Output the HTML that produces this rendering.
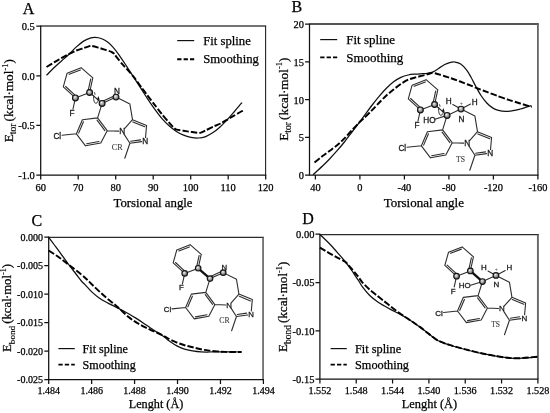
<!DOCTYPE html>
<html lang="en"><head><meta charset="utf-8"><title>Figure</title>
<style>html,body{margin:0;padding:0;background:#fff}body{width:550px;height:413px;overflow:hidden}svg{display:block}text{stroke:#000;stroke-width:.25px}</style>
</head><body>
<svg width="550" height="413" viewBox="0 0 550 413" font-family='"Liberation Serif", "DejaVu Serif", serif' fill="#000" stroke="none">
<defs><radialGradient id="sph" cx="0.4" cy="0.36" r="0.72"><stop offset="0" stop-color="#f6f6f6"/><stop offset="0.25" stop-color="#c4c4c4"/><stop offset="0.7" stop-color="#7a7a7a"/><stop offset="1" stop-color="#333"/></radialGradient></defs>
<rect width="550" height="413" fill="#fff"/>
<g id="panelA">
<path d="M40.7 26H266.15" fill="none" stroke="#444" stroke-width="1.5"/>
<path d="M265.6 26V175.1" fill="none" stroke="#222" stroke-width="1.1"/>
<path d="M40.7 25.6 V175.1 H266.2" fill="none" stroke="#111" stroke-width="1.25"/>
<path d="M40.7 175.1 v4.4M78.2 175.1 v4.4M115.7 175.1 v4.4M153.2 175.1 v4.4M190.7 175.1 v4.4M228.2 175.1 v4.4M265.7 175.1 v4.4M40.7 26.1 h-4.4M40.7 75.77 h-4.4M40.7 125.43 h-4.4M40.7 175.1 h-4.4" fill="none" stroke="#111" stroke-width="1.25"/>
<text x="40.7" y="191.2" text-anchor="middle" font-size="10.5">60</text>
<text x="78.2" y="191.2" text-anchor="middle" font-size="10.5">70</text>
<text x="115.7" y="191.2" text-anchor="middle" font-size="10.5">80</text>
<text x="153.2" y="191.2" text-anchor="middle" font-size="10.5">90</text>
<text x="190.7" y="191.2" text-anchor="middle" font-size="10.5">100</text>
<text x="228.2" y="191.2" text-anchor="middle" font-size="10.5">110</text>
<text x="265.7" y="191.2" text-anchor="middle" font-size="10.5">120</text>
<text x="34.8" y="30.1" text-anchor="end" font-size="10.5">0.5</text>
<text x="34.8" y="79.77" text-anchor="end" font-size="10.5">0.0</text>
<text x="34.8" y="129.43" text-anchor="end" font-size="10.5">-0.5</text>
<text x="34.8" y="179.1" text-anchor="end" font-size="10.5">-1.0</text>
<text x="28.6" y="14.2" text-anchor="middle" font-size="16">A</text>
<text x="153" y="206.6" text-anchor="middle" font-size="12.8">Torsional angle</text>
<text transform="translate(12.8 142.3) rotate(-90)" font-size="13.3">E<tspan font-size="9.58" dy="3.4" stroke-width=".15">tor</tspan><tspan dy="-3.4" dx="2.1">(kcal</tspan><tspan dx="-0.6">·</tspan><tspan dx="-0.2">mol</tspan><tspan font-size="8.51" dy="-5.3" stroke-width=".15">-1</tspan><tspan dy="5.3">)</tspan></text>
<path d="M46.5 75.3 C47.83 73.97 51.95 69.73 54.5 67.3 C57.05 64.87 59.37 62.88 61.8 60.7 C64.23 58.52 66.67 56.5 69.1 54.2 C71.53 51.9 73.98 49.08 76.4 46.9 C78.82 44.72 81.18 42.6 83.6 41.1 C86.02 39.6 88.95 38.52 90.9 37.9 C92.85 37.28 93.6 37.3 95.3 37.4 C97 37.5 99.17 37.8 101.1 38.5 C103.03 39.2 105 40.25 106.9 41.6 C108.8 42.95 110.4 44.27 112.5 46.6 C114.6 48.93 117.12 52.27 119.5 55.6 C121.88 58.93 124.37 62.9 126.8 66.6 C129.23 70.3 131.67 74.03 134.1 77.8 C136.53 81.57 139.2 85.77 141.4 89.2 C143.6 92.63 145.12 95.12 147.3 98.4 C149.48 101.68 152.08 105.57 154.5 108.9 C156.92 112.23 159.37 115.58 161.8 118.4 C164.23 121.22 166.67 123.62 169.1 125.8 C171.53 127.98 173.98 129.93 176.4 131.5 C178.82 133.07 181.18 134.23 183.6 135.2 C186.02 136.17 188.43 136.83 190.9 137.3 C193.37 137.77 195.93 138.12 198.4 138 C200.87 137.88 203.27 137.5 205.7 136.6 C208.13 135.7 210.57 134.25 213 132.6 C215.43 130.95 217.83 128.95 220.3 126.7 C222.77 124.45 225.58 121.47 227.8 119.1 C230.02 116.73 231.65 114.8 233.6 112.5 C235.55 110.2 238.1 106.95 239.5 105.3 C240.9 103.65 241.58 103.05 242 102.6" fill="none" stroke="#111" stroke-width="1.25" stroke-linecap="butt"/>
<path d="M46.5 67 C47.57 66.36 52.46 63.43 54.5 62.2 C56.54 60.97 59.85 58.91 61.8 57.8 C63.75 56.69 67.15 54.87 69.1 53.9 C71.05 52.93 74.47 51.27 76.4 50.5 C78.33 49.73 81.87 48.69 83.6 48.1 C85.33 47.51 88.33 46.41 89.4 46.1 C90.47 45.79 90.43 45.6 91.6 45.8 C92.77 46 96.35 47.05 98.2 47.6 C100.05 48.15 103.71 49.31 105.5 49.9 C107.29 50.49 110.44 51.48 111.6 52 C112.76 52.52 113.53 53.11 114.2 53.8 C114.87 54.49 115.49 55.79 116.6 57.2 C117.71 58.61 121.14 62.83 122.5 64.4 C123.86 65.97 125.25 67.27 126.8 69 C128.35 70.73 132.15 74.96 134.1 77.4 C136.05 79.84 139.64 84.93 141.4 87.3 C143.16 89.67 145.55 92.89 147.3 95.2 C149.05 97.51 152.57 102.09 154.5 104.6 C156.43 107.11 159.85 111.59 161.8 114 C163.75 116.41 167.5 120.86 169.1 122.7 C170.7 124.54 172.8 126.88 173.8 127.8 C174.8 128.72 175.29 129.2 176.6 129.6 C177.91 130 181.69 130.49 183.6 130.8 C185.51 131.11 189.03 131.63 190.9 131.9 C192.77 132.17 196.25 132.71 197.6 132.8 C198.95 132.89 199.88 132.95 201 132.6 C202.12 132.25 204.36 130.99 206 130.2 C207.64 129.41 211.37 127.59 213.3 126.7 C215.23 125.81 218.57 124.49 220.5 123.5 C222.43 122.51 226.05 120.31 227.8 119.3 C229.55 118.29 232.04 116.81 233.6 115.9 C235.16 114.99 238.23 113.19 239.5 112.5 C240.77 111.81 242.62 110.94 243.1 110.7" fill="none" stroke="#000" stroke-width="1.95" stroke-dasharray="6.4 2.1"/>
<path d="M177.2 40.6H194.2" stroke="#111" stroke-width="1.2"/>
<path d="M177.2 59.2H194.2" stroke="#000" stroke-width="1.9" stroke-dasharray="4.3 2.1"/>
<text x="203.2" y="44.7" font-size="12.7">Fit spline</text>
<text x="203.2" y="63.3" font-size="12.7">Smoothing</text>
<g fill="none" stroke="#2e2e2e" stroke-width="1.1" stroke-linecap="round">
<path d="M67.1 73.2L81.1 67.7M81.1 67.7L92.8 77.9M92.8 77.9L89.6 92.5M89.6 92.5L75.4 97.9M75.4 97.9L63.3 86.8M63.3 86.8L67.1 73.2M69.15 74.33L80.36 69.92M90.72 78.98L88.16 90.65M75.51 95.56L65.62 86.49M97.6 117.9L107.2 130.7M107.2 130.7L100.8 143M100.8 143L85.5 145.8M85.5 145.8L76.4 133.8M76.4 133.8L82.4 119.7M82.4 119.7L97.6 117.9M97.06 120.18L104.86 130.58M99 141.5L86.65 143.76M78.64 133.12L83.47 121.79M89.6 92.5L102.1 103.4M102.1 103.4L97.6 117.9M102.1 103.4L116 97.1M116 97.1L129.9 104.1M129.9 104.1L132.5 119.7M132.5 119.7L146.6 125.5M132.89 121.91L144.77 126.8M146.6 125.5L145.52 137.51M141.64 141.61L129.9 143.3M140.57 139.85L130.62 141.28M129.9 143.3L124.04 134.16M124.59 128.61L132.5 119.7M129.9 143.3L124.8 158.3M107.2 130.7L118.6 131.16M76.4 133.8L62 135.3M75.4 97.9L73 109M103.18 100.93L113.44 96.29"/>
<path d="M93.6 95.5 C93.3 99.5 94.2 103.5 95.9 103.3 C97.6 103.1 98.4 101.1 98.3 99.1" stroke="#222" stroke-width="0.9"/>
<path d="M98.3 96.1 L96.9 99.7 L99.7 99.7 z" fill="#111" stroke="none"/>
<path d="M94.6 92.7 L95 94.3" stroke="#222" stroke-width="0.9"/>
</g>
<circle cx="75.4" cy="97.9" r="2.9" fill="url(#sph)" stroke="#151515" stroke-width="1.15"/>
<circle cx="89.6" cy="92.5" r="2.9" fill="url(#sph)" stroke="#151515" stroke-width="1.15"/>
<circle cx="102.1" cy="103.4" r="2.9" fill="url(#sph)" stroke="#151515" stroke-width="1.15"/>
<circle cx="116" cy="97.1" r="2.9" fill="url(#sph)" stroke="#151515" stroke-width="1.15"/>
<g font-family='"Liberation Sans", "DejaVu Sans", sans-serif'>
<text x="57.3" y="138.65" text-anchor="middle" font-size="8.2" fill="#1a1a1a" style="stroke:#1a1a1a;stroke-width:0.3px">Cl</text>
<text x="72" y="115.85" text-anchor="middle" font-size="8.2" fill="#1a1a1a" style="stroke:#1a1a1a;stroke-width:0.3px">F</text>
<text x="122.2" y="134.25" text-anchor="middle" font-size="8.2" fill="#1a1a1a" style="stroke:#1a1a1a;stroke-width:0.3px">N</text>
<text x="145.2" y="144.05" text-anchor="middle" font-size="8.2" fill="#1a1a1a" style="stroke:#1a1a1a;stroke-width:0.3px">N</text>
<text x="117" y="94.05" text-anchor="middle" font-size="8.2" fill="#1a1a1a" style="stroke:#1a1a1a;stroke-width:0.3px">N</text>
</g>
<text x="117.2" y="150.25" text-anchor="middle" font-size="8.2" fill="#3a3a3a" style="stroke:#3a3a3a;stroke-width:0.1px">CR</text>
</g>
<g id="panelB">
<path d="M309.5 24H538.8" fill="none" stroke="#565656" stroke-width="1.8"/>
<path d="M537.9 24V175.1" fill="none" stroke="#666" stroke-width="1.8"/>
<path d="M309.5 23.5 V175.1 H538.4" fill="none" stroke="#111" stroke-width="1.25"/>
<path d="M315.4 175.1 v4.4M359.9 175.1 v4.4M404.4 175.1 v4.4M448.9 175.1 v4.4M493.4 175.1 v4.4M537.9 175.1 v4.4M309.5 24 h-4.4M309.5 61.77 h-4.4M309.5 99.55 h-4.4M309.5 137.32 h-4.4M309.5 175.1 h-4.4" fill="none" stroke="#111" stroke-width="1.25"/>
<text x="315.4" y="191.2" text-anchor="middle" font-size="10.4">40</text>
<text x="359.9" y="191.2" text-anchor="middle" font-size="10.4">0</text>
<text x="404.4" y="191.2" text-anchor="middle" font-size="10.4">-40</text>
<text x="448.9" y="191.2" text-anchor="middle" font-size="10.4">-80</text>
<text x="493.4" y="191.2" text-anchor="middle" font-size="10.4">-120</text>
<text x="537.9" y="191.2" text-anchor="middle" font-size="10.4">-160</text>
<text x="304" y="28" text-anchor="end" font-size="10.4">20</text>
<text x="304" y="65.78" text-anchor="end" font-size="10.4">15</text>
<text x="304" y="103.55" text-anchor="end" font-size="10.4">10</text>
<text x="304" y="141.32" text-anchor="end" font-size="10.4">5</text>
<text x="304" y="179.1" text-anchor="end" font-size="10.4">0</text>
<text x="296.8" y="12.2" text-anchor="middle" font-size="16">B</text>
<text x="423.8" y="206.6" text-anchor="middle" font-size="13.0">Torsional angle</text>
<text transform="translate(287.5 140.8) rotate(-90)" font-size="13.3">E<tspan font-size="9.58" dy="3.4" stroke-width=".15">tor</tspan><tspan dy="-3.4" dx="2.1">(kcal</tspan><tspan dx="-0.6">·</tspan><tspan dx="-0.2">mol</tspan><tspan font-size="8.51" dy="-5.3" stroke-width=".15">-1</tspan><tspan dy="5.3">)</tspan></text>
<path d="M313 174.8 C314.58 173.33 319.7 168.68 322.5 166 C325.3 163.32 327.37 161.25 329.8 158.7 C332.23 156.15 334.67 153.48 337.1 150.7 C339.53 147.92 341.98 145.03 344.4 142 C346.82 138.97 349.27 135.57 351.6 132.5 C353.93 129.43 356.25 126.45 358.4 123.6 C360.55 120.75 362.27 118.42 364.5 115.4 C366.73 112.38 369.37 108.68 371.8 105.5 C374.23 102.32 376.67 99.17 379.1 96.3 C381.53 93.43 383.98 90.72 386.4 88.3 C388.82 85.88 391.18 83.62 393.6 81.8 C396.02 79.98 398.47 78.53 400.9 77.4 C403.33 76.27 405.77 75.55 408.2 75 C410.63 74.45 413.08 74.32 415.5 74.1 C417.92 73.88 420.73 73.83 422.7 73.7 C424.67 73.57 425.57 73.6 427.3 73.3 C429.03 73 431.17 72.73 433.1 71.9 C435.03 71.07 436.97 69.53 438.9 68.3 C440.83 67.07 442.77 65.5 444.7 64.5 C446.63 63.5 448.8 62.72 450.5 62.3 C452.2 61.88 453.2 61.73 454.9 62 C456.6 62.27 458.77 62.6 460.7 63.9 C462.63 65.2 464.8 67.62 466.5 69.8 C468.2 71.98 469.38 74.3 470.9 77 C472.42 79.7 473.92 82.92 475.6 86 C477.28 89.08 479.13 92.67 481 95.5 C482.87 98.33 484.87 100.93 486.8 103 C488.73 105.07 490.65 106.67 492.6 107.9 C494.55 109.13 496.32 109.82 498.5 110.4 C500.68 110.98 503.28 111.35 505.7 111.4 C508.12 111.45 510.57 111.1 513 110.7 C515.43 110.3 518.12 109.58 520.3 109 C522.48 108.42 524.25 107.77 526.1 107.2 C527.95 106.63 530.52 105.87 531.4 105.6" fill="none" stroke="#111" stroke-width="1.25" stroke-linecap="butt"/>
<path d="M314.5 162.4 C315.62 161.52 320.36 157.74 322.5 156.1 C324.64 154.46 327.76 152.23 329.8 150.7 C331.84 149.17 335.06 146.92 337.1 145.2 C339.14 143.48 342.37 140.44 344.4 138.4 C346.43 136.36 349.58 132.76 351.6 130.6 C353.62 128.44 356.99 124.82 358.8 123 C360.61 121.18 362.68 119.36 364.5 117.6 C366.32 115.84 369.76 112.47 371.8 110.4 C373.84 108.33 377.06 104.89 379.1 102.8 C381.14 100.71 384.37 97.36 386.4 95.5 C388.43 93.64 391.57 91.12 393.6 89.5 C395.63 87.88 398.86 85.27 400.9 83.9 C402.94 82.53 406.16 80.61 408.2 79.7 C410.24 78.79 413.47 77.97 415.5 77.4 C417.53 76.83 420.88 76.08 422.7 75.6 C424.52 75.12 427.17 74.38 428.5 74 C429.83 73.62 431.29 73.01 432.2 72.9 C433.11 72.79 434.06 72.99 435 73.2 C435.94 73.41 437.54 73.98 438.9 74.4 C440.26 74.82 443.08 75.68 444.7 76.2 C446.32 76.72 448.86 77.55 450.5 78.1 C452.14 78.65 454.57 79.44 456.4 80.1 C458.23 80.76 461.57 82.02 463.6 82.8 C465.63 83.58 468.86 84.89 470.9 85.7 C472.94 86.51 475.97 87.73 478.2 88.6 C480.43 89.47 484.17 90.89 486.8 91.9 C489.43 92.91 493.95 94.69 497 95.8 C500.05 96.91 505.34 98.72 508.6 99.8 C511.86 100.88 517.44 102.62 520.3 103.5 C523.16 104.38 527.38 105.62 529 106.1 C530.62 106.58 531.49 106.79 531.9 106.9" fill="none" stroke="#000" stroke-width="1.95" stroke-dasharray="6.4 2.1"/>
<path d="M320.2 39.6H337.2" stroke="#111" stroke-width="1.2"/>
<path d="M320.2 57.4H337.2" stroke="#000" stroke-width="1.9" stroke-dasharray="4.3 2.1"/>
<text x="346.2" y="43.7" font-size="13.0">Fit spline</text>
<text x="346.2" y="61.5" font-size="13.0">Smoothing</text>
<g fill="none" stroke="#2e2e2e" stroke-width="1.1" stroke-linecap="round">
<path d="M412.1 85.2L426.1 79.7M426.1 79.7L437.8 89.9M437.8 89.9L434.6 104.5M434.6 104.5L420.4 109.9M420.4 109.9L408.3 98.8M408.3 98.8L412.1 85.2M414.15 86.33L425.36 81.92M435.72 90.98L433.16 102.65M420.51 107.56L410.62 98.49M442.6 129.9L452.2 142.7M452.2 142.7L445.8 155M445.8 155L430.5 157.8M430.5 157.8L421.4 145.8M421.4 145.8L427.4 131.7M427.4 131.7L442.6 129.9M442.06 132.18L449.86 142.58M444 153.5L431.65 155.76M423.64 145.12L428.47 133.79M434.6 104.5L447.1 115.4M447.1 115.4L442.6 129.9M447.1 115.4L461 109.1M461 109.1L474.9 116.1M474.9 116.1L477.5 131.7M477.5 131.7L491.6 137.5M477.89 133.91L489.77 138.8M491.6 137.5L490.52 149.51M486.64 153.61L474.9 155.3M485.57 151.85L475.62 153.28M474.9 155.3L469.04 146.16M469.59 140.61L477.5 131.7M474.9 155.3L469.8 170.3M452.2 142.7L463.6 143.16M421.4 145.8L407 147.3M420.4 109.9L418 121M447.1 115.4L434.9 119.2M461 109.1L452.8 104.5M461 109.1L470.6 104.1"/>
<path d="M438.6 107.5 C438.3 111.5 439.2 115.5 440.9 115.3 C442.6 115.1 443.4 113.1 443.3 111.1" stroke="#222" stroke-width="0.9"/>
<path d="M443.3 108.1 L441.9 111.7 L444.7 111.7 z" fill="#111" stroke="none"/>
<path d="M439.6 104.7 L440 106.3" stroke="#222" stroke-width="0.9"/>
</g>
<circle cx="420.4" cy="109.9" r="2.9" fill="url(#sph)" stroke="#151515" stroke-width="1.15"/>
<circle cx="434.6" cy="104.5" r="2.9" fill="url(#sph)" stroke="#151515" stroke-width="1.15"/>
<circle cx="447.1" cy="115.4" r="2.9" fill="url(#sph)" stroke="#151515" stroke-width="1.15"/>
<circle cx="461" cy="109.1" r="2.9" fill="url(#sph)" stroke="#151515" stroke-width="1.15"/>
<g font-family='"Liberation Sans", "DejaVu Sans", sans-serif'>
<text x="402.3" y="150.65" text-anchor="middle" font-size="8.2" fill="#1a1a1a" style="stroke:#1a1a1a;stroke-width:0.3px">Cl</text>
<text x="417" y="127.85" text-anchor="middle" font-size="8.2" fill="#1a1a1a" style="stroke:#1a1a1a;stroke-width:0.3px">F</text>
<text x="467.2" y="146.25" text-anchor="middle" font-size="8.2" fill="#1a1a1a" style="stroke:#1a1a1a;stroke-width:0.3px">N</text>
<text x="490.2" y="156.05" text-anchor="middle" font-size="8.2" fill="#1a1a1a" style="stroke:#1a1a1a;stroke-width:0.3px">N</text>
<text x="461.4" y="122.25" text-anchor="middle" font-size="8.2" fill="#1a1a1a" style="stroke:#1a1a1a;stroke-width:0.3px">N</text>
<text x="429.5" y="122.75" text-anchor="middle" font-size="8.2" fill="#1a1a1a" style="stroke:#1a1a1a;stroke-width:0.3px">HO</text>
<text x="448.6" y="104.35" text-anchor="middle" font-size="8.2" fill="#1a1a1a" style="stroke:#1a1a1a;stroke-width:0.3px">H</text>
<text x="474.8" y="104.85" text-anchor="middle" font-size="8.2" fill="#1a1a1a" style="stroke:#1a1a1a;stroke-width:0.3px">H</text>
<text x="461.4" y="105.28" text-anchor="middle" font-size="5.5" fill="#555" style="stroke:#555;stroke-width:0px">+</text>
</g>
<text x="460.6" y="162.07" text-anchor="middle" font-size="7.7" fill="#3a3a3a" style="stroke:#3a3a3a;stroke-width:0.1px">TS</text>
</g>
<g id="panelC">
<path d="M48.7 237.4H263.9" fill="none" stroke="#2c2c2c" stroke-width="1.15"/>
<path d="M263.05 237.4V379.5" fill="none" stroke="#666" stroke-width="1.7"/>
<path d="M48.7 236.6 V379.5 H263.9" fill="none" stroke="#111" stroke-width="1.25"/>
<path d="M48.7 379.5 v4.4M91.64 379.5 v4.4M134.58 379.5 v4.4M177.52 379.5 v4.4M220.46 379.5 v4.4M263.4 379.5 v4.4M48.7 237.1 h-4.4M48.7 265.58 h-4.4M48.7 294.06 h-4.4M48.7 322.54 h-4.4M48.7 351.02 h-4.4M48.7 379.5 h-4.4" fill="none" stroke="#111" stroke-width="1.25"/>
<text x="48.7" y="394.1" text-anchor="middle" font-size="10.0">1.484</text>
<text x="91.64" y="394.1" text-anchor="middle" font-size="10.0">1.486</text>
<text x="134.58" y="394.1" text-anchor="middle" font-size="10.0">1.488</text>
<text x="177.52" y="394.1" text-anchor="middle" font-size="10.0">1.490</text>
<text x="220.46" y="394.1" text-anchor="middle" font-size="10.0">1.492</text>
<text x="263.4" y="394.1" text-anchor="middle" font-size="10.0">1.494</text>
<text x="42.9" y="240.6" text-anchor="end" font-size="10.0">0.000</text>
<text x="42.9" y="269.08" text-anchor="end" font-size="10.0">-0.005</text>
<text x="42.9" y="297.56" text-anchor="end" font-size="10.0">-0.010</text>
<text x="42.9" y="326.04" text-anchor="end" font-size="10.0">-0.015</text>
<text x="42.9" y="354.52" text-anchor="end" font-size="10.0">-0.020</text>
<text x="42.9" y="383" text-anchor="end" font-size="10.0">-0.025</text>
<text x="36.8" y="226" text-anchor="middle" font-size="16">C</text>
<text x="156" y="408" text-anchor="middle" font-size="12.2">Lenght (Å)</text>
<text transform="translate(11.4 352) rotate(-90)" font-size="12.75">E<tspan font-size="9.18" dy="3.4" stroke-width=".15">bond</tspan><tspan dy="-3.4" dx="2.1">(kcal</tspan><tspan dx="-0.6">·</tspan><tspan dx="-0.2">mol</tspan><tspan font-size="8.16" dy="-5.3" stroke-width=".15">-1</tspan><tspan dy="5.3">)</tspan></text>
<path d="M48.7 237.3 C49.58 238.5 52.2 242.07 54 244.5 C55.8 246.93 57 248.48 59.5 251.9 C62 255.32 66.25 261.32 69 265 C71.75 268.68 73.93 271.33 76 274 C78.07 276.67 79.9 279.23 81.4 281 C82.9 282.77 83.18 282.7 85 284.6 C86.82 286.5 89.88 290.13 92.3 292.4 C94.72 294.67 97.08 296.52 99.5 298.2 C101.92 299.88 104.37 301.17 106.8 302.5 C109.23 303.83 111.92 305.1 114.1 306.2 C116.28 307.3 117.48 307.85 119.9 309.1 C122.32 310.35 125.93 312.2 128.6 313.7 C131.27 315.2 133.47 316.57 135.9 318.1 C138.33 319.63 140.77 321.25 143.2 322.9 C145.63 324.55 148.08 326.38 150.5 328 C152.92 329.62 155.28 331 157.7 332.6 C160.12 334.2 163.25 336.32 165 337.6 C166.75 338.88 166.3 338.97 168.2 340.3 C170.1 341.63 173.68 344.13 176.4 345.6 C179.12 347.07 181.78 348.22 184.5 349.1 C187.22 349.98 189.97 350.43 192.7 350.9 C195.43 351.37 198.17 351.72 200.9 351.9 C203.63 352.08 206.37 352.02 209.1 352 C211.83 351.98 214.15 351.83 217.3 351.8 C220.45 351.77 223.95 351.77 228 351.8 C232.05 351.83 239.33 351.97 241.6 352" fill="none" stroke="#111" stroke-width="1.25" stroke-linecap="butt"/>
<path d="M48.7 250.5 C50.5 251.7 56.12 255.28 59.5 257.7 C62.88 260.12 65.35 262.2 69 265 C72.65 267.8 78.37 272.03 81.4 274.5 C84.43 276.97 85.38 278.08 87.2 279.8 C89.02 281.52 90.25 282.83 92.3 284.8 C94.35 286.77 97.08 289.37 99.5 291.6 C101.92 293.83 104.37 296.13 106.8 298.2 C109.23 300.27 111.92 302.18 114.1 304 C116.28 305.82 117.48 306.92 119.9 309.1 C122.32 311.28 125.93 314.92 128.6 317.1 C131.27 319.28 133.47 320.67 135.9 322.2 C138.33 323.73 140.77 325.03 143.2 326.3 C145.63 327.57 148.08 328.68 150.5 329.8 C152.92 330.92 155.28 331.87 157.7 333 C160.12 334.13 163.25 335.67 165 336.6 C166.75 337.53 166.3 337.63 168.2 338.6 C170.1 339.57 173.68 341.3 176.4 342.4 C179.12 343.5 181.78 344.38 184.5 345.2 C187.22 346.02 189.97 346.62 192.7 347.3 C195.43 347.98 198.17 348.75 200.9 349.3 C203.63 349.85 206.37 350.25 209.1 350.6 C211.83 350.95 214.57 351.18 217.3 351.4 C220.03 351.62 221.45 351.8 225.5 351.9 C229.55 352 238.92 351.98 241.6 352" fill="none" stroke="#000" stroke-width="1.95" stroke-dasharray="6.4 2.1"/>
<path d="M58.4 348.6H74.8" stroke="#111" stroke-width="1.2"/>
<path d="M58.4 364.6H74.8" stroke="#000" stroke-width="1.9" stroke-dasharray="4.3 2.1"/>
<text x="82.6" y="352.7" font-size="12.1">Fit spline</text>
<text x="82.6" y="368.7" font-size="12.1">Smoothing</text>
<g fill="none" stroke="#2e2e2e" stroke-width="1.1" stroke-linecap="round">
<path d="M176.8 249.92L190.1 244.7M190.1 244.7L201.22 254.39M201.22 254.39L198.17 268.26M198.17 268.26L184.69 273.39M184.69 273.39L173.19 262.84M173.19 262.84L176.8 249.92M178.85 251.05L189.36 246.92M199.14 255.47L196.74 266.41M184.8 271.05L175.51 262.53M205.78 292.39L214.9 304.55M214.9 304.55L208.81 316.24M208.81 316.24L194.28 318.89M194.28 318.89L185.63 307.5M185.63 307.5L191.34 294.1M191.34 294.1L205.78 292.39M205.24 294.67L212.56 304.43M207.02 314.73L195.43 316.85M187.88 306.82L192.4 296.19M210.05 278.62L205.78 292.39M210.05 278.62L223.25 272.63M223.25 272.63L236.46 279.28M236.46 279.28L238.93 294.1M238.93 294.1L252.32 299.61M239.32 296.31L250.49 300.91M252.32 299.61L251.3 311.02M247.61 314.92L236.46 316.52M246.59 313.14L237.18 314.5M236.46 316.52L230.89 307.84M231.42 302.56L238.93 294.1M236.46 316.52L231.62 330.77M214.9 304.55L225.73 304.98M185.63 307.5L171.96 308.92M184.69 273.39L182.41 283.94M211.13 276.15L220.69 271.82"/>
<path d="M198.17 268.26L210.05 278.62" stroke="#111" stroke-width="2.3" stroke-linecap="butt"/>
</g>
<circle cx="184.69" cy="273.39" r="2.75" fill="url(#sph)" stroke="#151515" stroke-width="1.15"/>
<circle cx="198.17" cy="268.26" r="2.75" fill="url(#sph)" stroke="#151515" stroke-width="1.15"/>
<circle cx="210.05" cy="278.62" r="2.75" fill="url(#sph)" stroke="#151515" stroke-width="1.15"/>
<circle cx="223.25" cy="272.63" r="2.75" fill="url(#sph)" stroke="#151515" stroke-width="1.15"/>
<g font-family='"Liberation Sans", "DejaVu Sans", sans-serif'>
<text x="167.49" y="312.1" text-anchor="middle" font-size="7.79" fill="#1a1a1a" style="stroke:#1a1a1a;stroke-width:0.3px">Cl</text>
<text x="181.46" y="290.44" text-anchor="middle" font-size="7.79" fill="#1a1a1a" style="stroke:#1a1a1a;stroke-width:0.3px">F</text>
<text x="229.15" y="307.92" text-anchor="middle" font-size="7.79" fill="#1a1a1a" style="stroke:#1a1a1a;stroke-width:0.3px">N</text>
<text x="250.99" y="317.23" text-anchor="middle" font-size="7.79" fill="#1a1a1a" style="stroke:#1a1a1a;stroke-width:0.3px">N</text>
<text x="224.2" y="269.73" text-anchor="middle" font-size="7.79" fill="#1a1a1a" style="stroke:#1a1a1a;stroke-width:0.3px">N</text>
</g>
<text x="224.4" y="323.12" text-anchor="middle" font-size="7.79" fill="#3a3a3a" style="stroke:#3a3a3a;stroke-width:0.1px">CR</text>
</g>
<g id="panelD">
<path d="M319.9 234.65H538.85" fill="none" stroke="#2c2c2c" stroke-width="1.2"/>
<path d="M537.9 234.65V379.2" fill="none" stroke="#666" stroke-width="1.9"/>
<path d="M319.9 233.7 V379.2 H538.4" fill="none" stroke="#111" stroke-width="1.25"/>
<path d="M319.9 379.2 v4.4M356.23 379.2 v4.4M392.57 379.2 v4.4M428.9 379.2 v4.4M465.23 379.2 v4.4M501.57 379.2 v4.4M537.9 379.2 v4.4M319.9 234.2 h-4.4M319.9 282.53 h-4.4M319.9 330.87 h-4.4M319.9 379.2 h-4.4" fill="none" stroke="#111" stroke-width="1.25"/>
<text x="319.9" y="394.2" text-anchor="middle" font-size="10.2">1.552</text>
<text x="356.23" y="394.2" text-anchor="middle" font-size="10.2">1.548</text>
<text x="392.57" y="394.2" text-anchor="middle" font-size="10.2">1.544</text>
<text x="428.9" y="394.2" text-anchor="middle" font-size="10.2">1.540</text>
<text x="465.23" y="394.2" text-anchor="middle" font-size="10.2">1.536</text>
<text x="501.57" y="394.2" text-anchor="middle" font-size="10.2">1.532</text>
<text x="537.9" y="394.2" text-anchor="middle" font-size="10.2">1.528</text>
<text x="314.4" y="238" text-anchor="end" font-size="10.5">0.00</text>
<text x="314.4" y="286.33" text-anchor="end" font-size="10.5">-0.05</text>
<text x="314.4" y="334.67" text-anchor="end" font-size="10.5">-0.10</text>
<text x="314.4" y="383" text-anchor="end" font-size="10.5">-0.15</text>
<text x="308" y="223.6" text-anchor="middle" font-size="16">D</text>
<text x="429.5" y="408" text-anchor="middle" font-size="12.4">Lenght (Å)</text>
<text transform="translate(287.2 352) rotate(-90)" font-size="13.1">E<tspan font-size="9.43" dy="3.4" stroke-width=".15">bond</tspan><tspan dy="-3.4" dx="2.1">(kcal</tspan><tspan dx="-0.6">·</tspan><tspan dx="-0.2">mol</tspan><tspan font-size="8.38" dy="-5.3" stroke-width=".15">-1</tspan><tspan dy="5.3">)</tspan></text>
<path d="M319.9 234.5 C321.5 236.05 326.68 240.92 329.5 243.8 C332.32 246.68 334.13 248.77 336.8 251.8 C339.47 254.83 343.07 258.97 345.5 262 C347.93 265.03 349.82 267.77 351.4 270 C352.98 272.23 353.8 273.63 355 275.4 C356.2 277.17 357.38 278.73 358.6 280.6 C359.82 282.47 360.48 284.17 362.3 286.6 C364.12 289.03 367.08 292.77 369.5 295.2 C371.92 297.63 374.37 299.43 376.8 301.2 C379.23 302.97 381.67 304.35 384.1 305.8 C386.53 307.25 388.98 308.62 391.4 309.9 C393.82 311.18 396.18 312.23 398.6 313.5 C401.02 314.77 403.47 316.03 405.9 317.5 C408.33 318.97 410.77 320.65 413.2 322.3 C415.63 323.95 417.85 325.43 420.5 327.4 C423.15 329.37 426.15 331.87 429.1 334.1 C432.05 336.33 434.8 338.98 438.2 340.8 C441.6 342.62 444.95 343.55 449.5 345 C454.05 346.45 460.18 348.1 465.5 349.5 C470.82 350.9 476.1 352.25 481.4 353.4 C486.7 354.55 492.38 355.6 497.3 356.4 C502.22 357.2 506.73 357.9 510.9 358.2 C515.07 358.5 517.85 358.43 522.3 358.2 C526.75 357.97 535.05 357.03 537.6 356.8" fill="none" stroke="#111" stroke-width="1.25" stroke-linecap="butt"/>
<path d="M319.9 247.6 C321.24 248.4 327.13 251.94 329.5 253.3 C331.87 254.66 334.56 256.08 336.8 257.3 C339.04 258.52 343.46 260.43 345.5 262 C347.54 263.57 349.76 266.62 351.4 268.5 C353.04 270.38 355.67 273.47 357.2 275.4 C358.73 277.33 360.58 280.33 362.3 282.3 C364.02 284.27 367.47 287.67 369.5 289.5 C371.53 291.33 374.76 293.76 376.8 295.4 C378.84 297.04 382.06 299.58 384.1 301.2 C386.14 302.82 389.37 305.42 391.4 307 C393.43 308.58 396.57 311.03 398.6 312.5 C400.63 313.97 403.86 316.13 405.9 317.5 C407.94 318.87 411.16 320.91 413.2 322.3 C415.24 323.69 418.27 325.75 420.5 327.4 C422.73 329.05 426.62 332.24 429.1 334.1 C431.58 335.96 435.34 339.19 438.2 340.7 C441.06 342.21 445.68 343.68 449.5 344.9 C453.32 346.12 461.03 348.22 465.5 349.4 C469.97 350.58 476.95 352.33 481.4 353.3 C485.85 354.27 493.17 355.63 497.3 356.3 C501.43 356.97 507.4 357.85 510.9 358.1 C514.4 358.35 518.56 358.3 522.3 358.1 C526.04 357.9 535.46 356.9 537.6 356.7" fill="none" stroke="#000" stroke-width="1.95" stroke-dasharray="6.4 2.1"/>
<path d="M330.6 348.6H346.8" stroke="#111" stroke-width="1.2"/>
<path d="M330.6 364.6H346.8" stroke="#000" stroke-width="1.9" stroke-dasharray="4.3 2.1"/>
<text x="355" y="352.7" font-size="12.3">Fit spline</text>
<text x="355" y="368.7" font-size="12.3">Smoothing</text>
<g fill="none" stroke="#2e2e2e" stroke-width="1.1" stroke-linecap="round">
<path d="M448.52 252.24L462.1 246.9M462.1 246.9L473.45 256.79M473.45 256.79L470.35 270.96M470.35 270.96L456.57 276.19M456.57 276.19L444.83 265.43M444.83 265.43L448.52 252.24M450.57 253.36L461.36 249.12M471.37 257.87L468.91 269.11M456.68 273.85L447.16 265.11M478.11 295.59L487.42 308.01M487.42 308.01L481.21 319.94M481.21 319.94L466.37 322.66M466.37 322.66L457.54 311.02M457.54 311.02L463.36 297.34M463.36 297.34L478.11 295.59M477.56 297.87L485.08 307.89M479.41 318.44L467.52 320.62M459.78 310.34L464.43 299.43M482.47 281.53L478.11 295.59M482.47 281.53L495.95 275.42M495.95 275.42L509.44 282.21M509.44 282.21L511.96 297.34M511.96 297.34L525.63 302.97M512.34 299.55L523.8 304.27M525.63 302.97L524.59 314.62M520.82 318.6L509.44 320.23M519.78 316.82L510.16 318.21M509.44 320.23L503.75 311.37M504.29 305.98L511.96 297.34M509.44 320.23L504.49 334.78M487.42 308.01L498.48 308.45M457.54 311.02L443.57 312.47M456.57 276.19L454.24 286.96M482.47 281.53L470.64 285.21M495.95 275.42L488 270.96M495.95 275.42L505.27 270.57"/>
<path d="M470.35 270.96L482.47 281.53" stroke="#111" stroke-width="2.3" stroke-linecap="butt"/>
</g>
<circle cx="456.57" cy="276.19" r="2.81" fill="url(#sph)" stroke="#151515" stroke-width="1.15"/>
<circle cx="470.35" cy="270.96" r="2.81" fill="url(#sph)" stroke="#151515" stroke-width="1.15"/>
<circle cx="482.47" cy="281.53" r="2.81" fill="url(#sph)" stroke="#151515" stroke-width="1.15"/>
<circle cx="495.95" cy="275.42" r="2.81" fill="url(#sph)" stroke="#151515" stroke-width="1.15"/>
<g font-family='"Liberation Sans", "DejaVu Sans", sans-serif'>
<text x="439.01" y="315.72" text-anchor="middle" font-size="7.95" fill="#1a1a1a" style="stroke:#1a1a1a;stroke-width:0.3px">Cl</text>
<text x="453.27" y="293.61" text-anchor="middle" font-size="7.95" fill="#1a1a1a" style="stroke:#1a1a1a;stroke-width:0.3px">F</text>
<text x="501.97" y="311.46" text-anchor="middle" font-size="7.95" fill="#1a1a1a" style="stroke:#1a1a1a;stroke-width:0.3px">N</text>
<text x="524.28" y="320.96" text-anchor="middle" font-size="7.95" fill="#1a1a1a" style="stroke:#1a1a1a;stroke-width:0.3px">N</text>
<text x="496.34" y="287.1" text-anchor="middle" font-size="7.95" fill="#1a1a1a" style="stroke:#1a1a1a;stroke-width:0.3px">N</text>
<text x="464.8" y="288.12" text-anchor="middle" font-size="7.95" fill="#1a1a1a" style="stroke:#1a1a1a;stroke-width:0.3px">HO</text>
<text x="483.93" y="269.91" text-anchor="middle" font-size="7.95" fill="#1a1a1a" style="stroke:#1a1a1a;stroke-width:0.3px">H</text>
<text x="509.34" y="270.4" text-anchor="middle" font-size="7.95" fill="#1a1a1a" style="stroke:#1a1a1a;stroke-width:0.3px">H</text>
<text x="496.34" y="270.81" text-anchor="middle" font-size="5.33" fill="#555" style="stroke:#555;stroke-width:0px">+</text>
</g>
<text x="495.57" y="326.8" text-anchor="middle" font-size="7.47" fill="#3a3a3a" style="stroke:#3a3a3a;stroke-width:0.1px">TS</text>
</g>
</svg>
</body></html>
